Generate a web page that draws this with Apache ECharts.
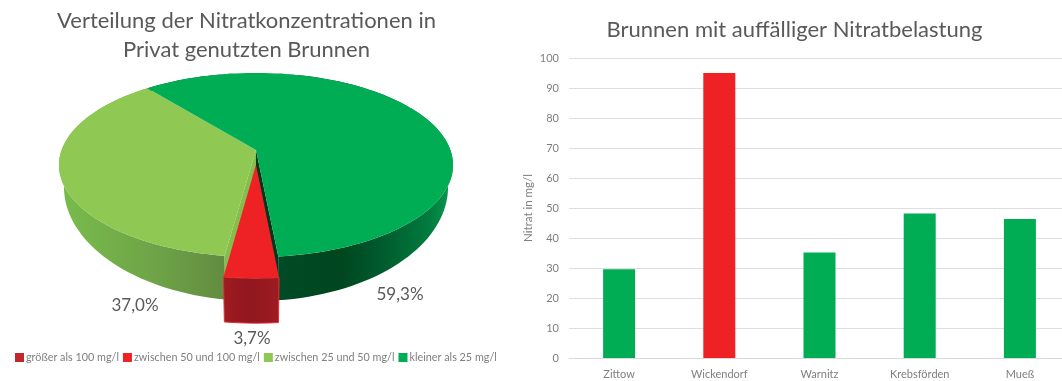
<!DOCTYPE html>
<html>
<head>
<meta charset="utf-8">
<style>html,body{margin:0;padding:0;background:#fff}#c{width:1062px;height:381px}</style>
<script src="https://cdn.jsdelivr.net/npm/echarts@6/dist/echarts.min.js"></script>
</head>
<body>
<div id="c"></div>
<script>
// Nitrate shares of privately used wells
const classNames = ['größer als 100 mg/l', 'zwischen 50 und 100 mg/l', 'zwischen 25 und 50 mg/l', 'kleiner als 25 mg/l'];
const classShares = [0, 3.7, 37.0, 59.3];

// Wells with conspicuous nitrate load
const wells = ['Zittow', 'Wickendorf', 'Warnitz', 'Krebsförden', 'Mueß'];
const nitrate = [29.6, 95, 35.2, 48.2, 46.3];
const wellColors = ['#00AD54', '#EE2224', '#00AD54', '#00AD54', '#00AD54'];

const classColors = ['#C1272D', '#EE2224', '#8FC853', '#00AD54'];
const sideStops = [
  null,
  [[0, '#A01B22'], [0.5, '#8F171D'], [1, '#A01B22']],
  [[0, '#78BC4C'], [0.55, '#6FA548'], [1, '#628C40']],
  [[0, '#004A25'], [0.35, '#00461F'], [0.6, '#005C2E'], [0.85, '#007A3D'], [1, '#0A9A50']]
];
const wallColors = [null, '#8F171D', '#86BE4E', '#00381B'];
const labelAnchors = [null, [252, 339], [135, 306], [400, 295]];

// Pie projection: a unit disc seen in perspective
const CX = 256, CY = 150, RX = 194.4, RY = 89.6, PERSP = 0.163;
// Rim of the disc's underside, relative to the rim of the top face
const TOP_MID_Y = 165, TOP_RY = 92, LOW_MID_Y = 187, LOW_RY = 114, LOW_X_SCALE = 192 / 197;
const WEDGE_DEPTH = 45, START_DEG = -39, PULL_OUT = 0.16;

function project(u, v) {
  const w = 1 - PERSP * v;
  return [CX + RX * u / w, CY + RY * v / w];
}

function lower(p, pull) {
  return [
    CX + (p[0] - CX) * LOW_X_SCALE,
    pull ? p[1] + WEDGE_DEPTH : LOW_MID_Y + (p[1] - TOP_MID_Y) * LOW_RY / TOP_RY
  ];
}

// Clockwise order around the disc: largest class first, then the pulled-out wedge
const sweepOrder = [3, 1, 2, 0];
const total = classShares.reduce((a, b) => a + b, 0);
const spans = {};
let cursor = START_DEG;
sweepOrder.forEach(i => {
  const end = cursor + classShares[i] / total * 360;
  spans[i] = [cursor, end];
  cursor = end;
});

function rimPoints(a0, a1, pull) {
  const n = Math.max(2, Math.ceil((a1 - a0) / 2));
  const pts = [];
  for (let k = 0; k <= n; k++) {
    const a = (a0 + (a1 - a0) * k / n) * Math.PI / 180;
    pts.push(project(Math.sin(a), -Math.cos(a) + pull));
  }
  return pts;
}

function renderSlice(idx) {
  return function (params, api) {
    if (!(api.value(0) > 0)) return { type: 'group', children: [] };
    const [a0, a1] = spans[idx];
    const pull = idx === 1 ? PULL_OUT : 0;
    const topRim = rimPoints(a0, a1, pull);
    const lowRim = topRim.map(p => lower(p, pull));
    const apexTop = project(0, pull);
    const apexLow = lower(apexTop, pull);
    const xs = topRim.map(p => p[0]);
    // The large slice shades from the front rim out to its lit right edge
    const gradFrom = idx === 3 ? 280 : Math.min.apply(null, xs);
    const gradTo = idx === 3 ? 453 : (idx === 2 ? 225 : Math.max.apply(null, xs));
    const fillSide = new echarts.graphic.LinearGradient(
      gradFrom, 0, gradTo, 0,
      sideStops[idx].map(s => ({ offset: s[0], color: s[1] })), true);
    const children = [{
      type: 'polygon', z2: 1,
      shape: { points: topRim.concat(lowRim.slice().reverse()) },
      style: idx === 1 ? { fill: fillSide, stroke: '#E0303A', lineWidth: 1 } : { fill: fillSide }
    }];
    if (idx !== 1) {
      // Cut face exposed by the pulled-out wedge
      const t = idx === 3 ? topRim[topRim.length - 1] : topRim[0];
      const l = idx === 3 ? lowRim[lowRim.length - 1] : lowRim[0];
      children.push({
        type: 'polygon', z2: 2,
        shape: { points: [apexTop, t, l, apexLow] },
        style: { fill: wallColors[idx] }
      });
    }
    children.push({
      type: 'polygon', z2: 3,
      shape: { points: [apexTop].concat(topRim) },
      style: { fill: api.visual('color') }
    });
    const anchor = labelAnchors[idx];
    children.push({
      type: 'text', z2: 4,
      style: {
        x: anchor[0], y: anchor[1],
        text: api.value(0).toFixed(1).replace('.', ',') + '%',
        fill: '#595959', font: '17px Lato', align: 'center', verticalAlign: 'middle'
      }
    });
    return { type: 'group', children: children };
  };
}

const textGrey = '#7F7F7F';
const sliceSeries = classNames.map((name, i) => ({
  type: 'custom',
  name: name,
  coordinateSystem: 'none',
  z: i === 1 ? 3 : 2,
  silent: true,
  animation: false,
  data: [[classShares[i]]],
  itemStyle: { color: classColors[i] },
  renderItem: renderSlice(i)
}));

const chart = echarts.init(document.getElementById('c'), null, { renderer: 'canvas' });
chart.setOption({
  animation: false,
  backgroundColor: '#fff',
  color: classColors,
  title: [
    {
      text: 'Verteilung der Nitratkonzentrationen in\nPrivat genutzten Brunnen',
      left: 246.5, top: 6, textAlign: 'center', padding: 0,
      textStyle: { fontFamily: 'Lato', fontSize: 22, fontWeight: 'normal', color: '#595959', lineHeight: 29 }
    },
    {
      text: 'Brunnen mit auffälliger Nitratbelastung',
      left: 794.5, top: 19, textAlign: 'center', padding: 0,
      textStyle: { fontFamily: 'Lato', fontSize: 22, fontWeight: 'normal', color: '#595959' }
    }
  ],
  legend: {
    data: classNames,
    left: 15, top: 352,
    icon: 'rect',
    itemWidth: 9, itemHeight: 9, itemGap: 4,
    selectedMode: false,
    padding: 0,
    textStyle: { fontFamily: 'Lato', fontSize: 10.8, color: textGrey, padding: [0, 0, 0, -3] }
  },
  grid: { left: 569, top: 58, width: 501, height: 300, outerBoundsMode: 'none' },
  xAxis: {
    type: 'category',
    data: wells,
    axisTick: { show: false },
    axisLine: { lineStyle: { color: '#D9D9D9' } },
    axisLabel: { fontFamily: 'Lato', fontSize: 11, color: textGrey, margin: 11 }
  },
  yAxis: {
    type: 'value',
    min: 0, max: 100, interval: 10,
    name: 'Nitrat in mg/l',
    nameLocation: 'middle',
    nameGap: 35,
    nameTextStyle: { fontFamily: 'Lato', fontSize: 11.5, color: textGrey },
    axisLine: { show: false },
    axisTick: { show: false },
    axisLabel: { fontFamily: 'Lato', fontSize: 11, color: textGrey, margin: 10 },
    splitLine: { lineStyle: { color: '#DEDEDE' } }
  },
  series: sliceSeries.concat([{
    type: 'bar',
    name: 'Nitrat in mg/l',
    barWidth: 32,
    silent: true,
    data: nitrate.map((v, i) => ({ value: v, itemStyle: { color: wellColors[i] } }))
  }])
});
</script>
</body>
</html>
